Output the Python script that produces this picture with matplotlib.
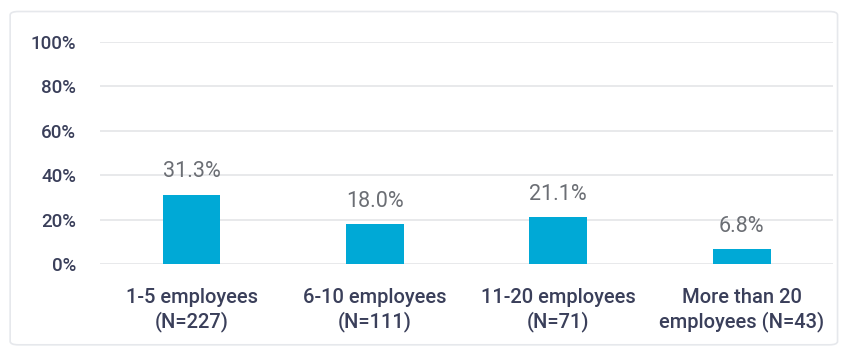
import matplotlib
matplotlib.use("Agg")
import matplotlib.pyplot as plt
from matplotlib.patches import FancyBboxPatch

categories = ["1-5 employees\n(N=227)", "6-10 employees\n(N=111)",
              "11-20 employees\n(N=71)", "More than 20\nemployees (N=43)"]
shares = [31.3, 18.0, 21.1, 6.8]
yticks = [0, 20, 40, 60, 80, 100]

plt.rcParams['font.family'] = ['Roboto', 'DejaVu Sans']

fig = plt.figure(figsize=(8.46, 3.49), dpi=100)
fig.patch.set_facecolor("white")

# faint card outline around the chart
card = FancyBboxPatch((0.012, 0.012), 0.978, 0.955, boxstyle="round,pad=0,rounding_size=0.01",
                      transform=fig.transFigure, facecolor="none", edgecolor="#e6e8ec",
                      lw=1.2, zorder=-5)
fig.patches.append(card)

ax = fig.add_axes([0.118, 0.2436, 0.867, 0.636])
ax.patch.set_alpha(0)
x = range(len(categories))
ax.bar(x, shares, width=0.315, color="#00a9d6", zorder=3)

for i, v in zip(x, shares):
    ax.text(i, v + 5.5, f"{v:.1f}%", ha="center", va="bottom", fontsize=15.5,
            color="#6b6e74")

ax.set_xlim(-0.5, 3.5)
ax.set_ylim(0, 100)
ax.set_yticks(yticks)
ax.set_yticklabels([f"{t}%" for t in yticks], fontsize=13.5, color="#3a3f5a",
                   fontweight="medium")
ax.set_xticks(list(x))
ax.set_xticklabels(categories, fontsize=14.5, color="#3a3f5a", linespacing=1.3,
                   fontweight="medium")
ax.tick_params(axis="both", length=0)
ax.tick_params(axis="y", pad=17)
ax.tick_params(axis="x", pad=17)
ax.grid(axis="y", color="#e4e5e8", lw=1.2, zorder=0)
ax.set_axisbelow(True)
for s in ax.spines.values():
    s.set_visible(False)

fig.savefig("out.png", dpi=100)
